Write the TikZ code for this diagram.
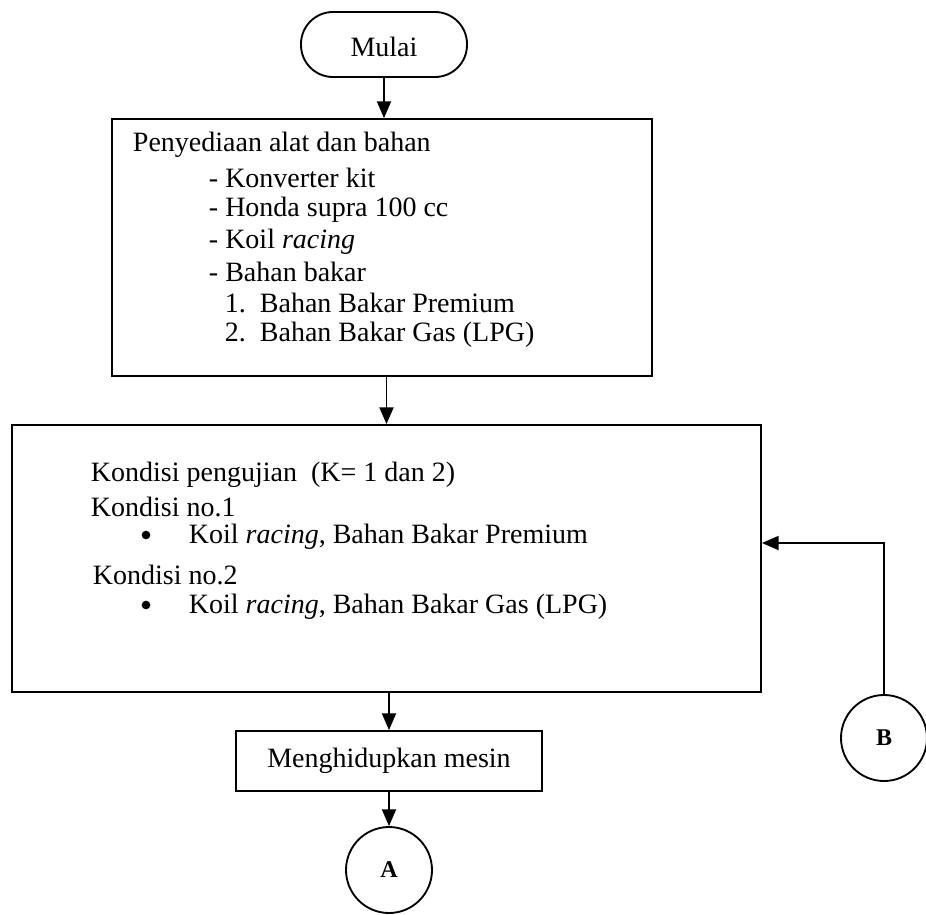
\documentclass[tikz,border=0pt]{standalone}
\usepackage{fontspec}
\setmainfont{Liberation Serif}
\usepackage{tikz}
\usetikzlibrary{arrows.meta,positioning,shapes.misc}

\begin{document}
\begin{tikzpicture}[x=0.75pt,y=-0.75pt, font=\fontsize{21}{24}\selectfont,
  line width=1.4pt,
  flow/.style={-{Triangle[length=12.5pt,width=10.5pt]}},
  box/.style={draw, rectangle, inner sep=0pt},
  conn/.style={draw, circle, inner sep=0pt, minimum size=64.5pt, font=\fontsize{18}{20}\selectfont\bfseries},
  item/.style={anchor=west, inner sep=0pt},
  dot/.style={circle, fill, inner sep=0pt, minimum size=6.5pt}]
\useasboundingbox (0,0) rectangle (926,915);
% start
\node[box, rounded corners=24pt, minimum width=124.5pt, minimum height=48.75pt] (mulai) at (384,44.5) {};
\node (mulaitxt) at (384,47) {Mulai};
% alat dan bahan
\node[box, minimum width=405pt, minimum height=192.75pt] (bahan) at (382,247.5) {};
\node[item] (b0) at (132,145) {Penyediaan alat dan bahan};
\node[item] (b1) at (208,178) {- Konverter kit};
\node[item] (b2) at (208,210) {- Honda supra 100 cc};
\node[item] (b3) at (208,242) {- Koil \textit{racing}};
\node[item] (b4) at (208,272) {- Bahan bakar};
\node[item] (b5) at (224,303) {1.\ \ Bahan Bakar Premium};
\node[item] (b6) at (224,335) {2.\ \ Bahan Bakar Gas (LPG)};
% kondisi pengujian
\node[box, minimum width=561.75pt, minimum height=200.25pt] (kondisi) at (386.5,558.5) {};
\node[item] (k0) at (90,475) {Kondisi pengujian\ \ (K= 1 dan 2)};
\node[item] (k1) at (90,507) {Kondisi no.1};
\node[dot] (d1) at (146,535) {};
\node[item] (k2) at (188,537) {Koil \textit{racing}, Bahan Bakar Premium};
\node[item] (k3) at (92,575) {Kondisi no.2};
\node[dot] (d2) at (146,605) {};
\node[item] (k4) at (188,607) {Koil \textit{racing}, Bahan Bakar Gas (LPG)};
% mesin
\node[box, minimum width=229.5pt, minimum height=45pt] (mesin) at (389,761) {Menghidupkan mesin};
% connectors
\node[conn] (A) at (389,870) {A};
\node[conn] (B) at (884,738) {B};
\coordinate (bin) at (762,543);
\draw[flow] (mulai.south) -- (mulai.south |- bahan.north);
\draw[flow] (kondisi.north |- bahan.south) -- (kondisi.north);
\draw[flow] (mesin.north |- kondisi.south) -- (mesin.north);
\draw[flow] (mesin.south) -- (A.north);
\draw[flow] (B.north) |- (bin);
\end{tikzpicture}
\end{document}
